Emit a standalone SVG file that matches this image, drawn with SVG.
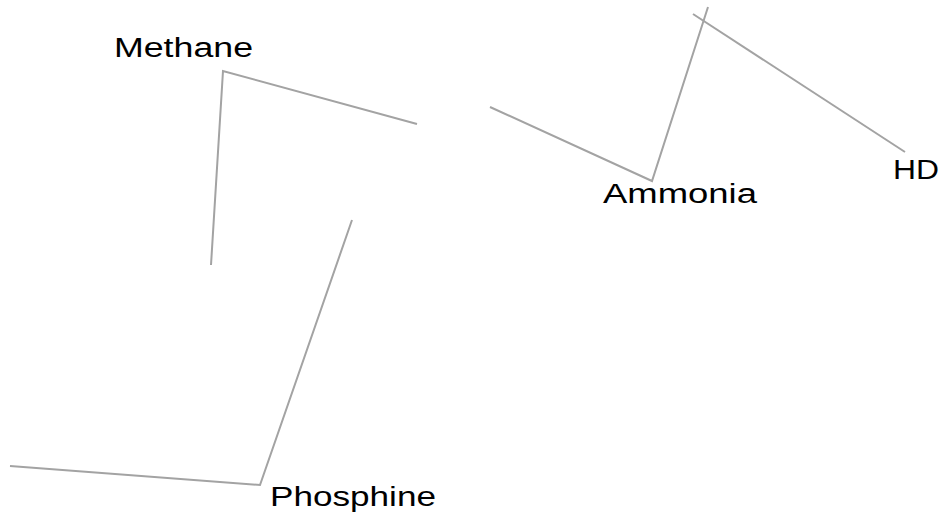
<svg xmlns="http://www.w3.org/2000/svg" width="948" height="520" viewBox="0 0 948 520">
<style>
.edge{fill:none;stroke:#a3a3a3;stroke-width:2;stroke-linecap:butt;stroke-linejoin:miter}
.lbl{font-family:"Liberation Sans",Arial,sans-serif;font-size:27px;fill:#000}
</style>
<rect width="948" height="520" fill="#fff"/>
<g id="connectors">
<polyline class="edge" points="417,124 223,71 211,265"/>
<polyline class="edge" points="352,220 260,485 10,466"/>
<polyline class="edge" points="490,107 652,181 708,7"/>
<line class="edge" x1="693" y1="14" x2="905" y2="152"/>
</g>
<g id="node-methane"><text class="lbl" x="114" y="57" textLength="139" lengthAdjust="spacingAndGlyphs">Methane</text></g>
<g id="node-ammonia"><text class="lbl" x="603" y="203" textLength="154" lengthAdjust="spacingAndGlyphs">Ammonia</text></g>
<g id="node-phosphine"><text class="lbl" x="270" y="506" textLength="166" lengthAdjust="spacingAndGlyphs">Phosphine</text></g>
<g id="node-hd"><text class="lbl" x="893" y="179" textLength="46" lengthAdjust="spacingAndGlyphs">HD</text></g>
</svg>
